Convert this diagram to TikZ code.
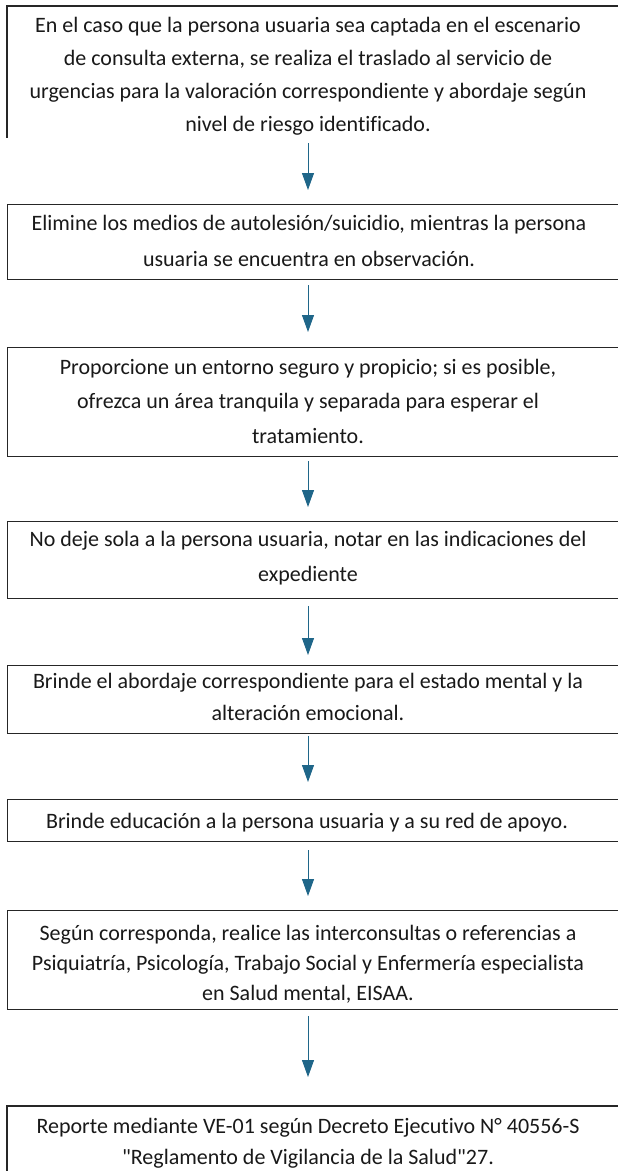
\documentclass[tikz,border=0pt]{standalone}
\usepackage{fontspec}
\setmainfont{Carlito}[Ligatures={TeXOff,CommonOff}]
\usetikzlibrary{arrows.meta}
\definecolor{arrowblue}{HTML}{1F6689}
\definecolor{boxgray}{HTML}{262626}
\begin{document}
\begin{tikzpicture}[x=1pt,y=-1pt,
  boxline/.style={draw=boxgray, line width=1.2pt},
  boxshape/.style={rectangle, inner sep=0pt, anchor=north west, minimum width=640pt},
  txt/.style={align=center, inner sep=0pt, text=black!90},
  arr/.style={draw=arrowblue, line width=1pt, -{Triangle[length=17pt,width=12pt]}}]
\useasboundingbox (0,0) rectangle (618,1171);
\clip (0,0) rectangle (618,1171);
\fill[white] (0,0) rectangle (618,1171);
\coordinate (ax) at (308,0);
% boxes
\node[boxshape, minimum height=132pt] (b1) at (7,6) {};
\draw[boxline] (b1.north east) -- (b1.north west) -- (b1.south west);
\node[boxshape, boxline, minimum height=75pt] (b2) at (7,204) {};
\node[boxshape, boxline, minimum height=109pt] (b3) at (7,347) {};
\node[boxshape, boxline, minimum height=77pt] (b4) at (7,521) {};
\node[boxshape, boxline, minimum height=68pt] (b5) at (7,665) {};
\node[boxshape, boxline, minimum height=42pt] (b6) at (7,799) {};
\node[boxshape, boxline, minimum height=99pt] (b7) at (7,910) {};
\node[boxshape, minimum height=80pt] (b8) at (7,1106) {};
\draw[boxline] (b8.north east) -- (b8.north west) -- (b8.south west);
% texts
\node[txt, font=\fontsize{22}{33}\selectfont] (t1) at (308,76.5)
  {En el caso que la persona usuaria sea captada en el escenario\\
   de consulta externa, se realiza el traslado al servicio de\\
   urgencias para la valoración correspondiente y abordaje según\\
   nivel de riesgo identificado.};
\node[txt, font=\fontsize{22}{36}\selectfont] (t2) at (309,241)
  {Elimine los medios de autolesión/suicidio, mientras la persona\\
   usuaria se encuentra en observación.};
\node[txt, font=\fontsize{22}{34.5}\selectfont] (t3) at (308,401)
  {Proporcione un entorno seguro y propicio; si es posible,\\
   ofrezca un área tranquila y separada para esperar el\\
   tratamiento.};
\node[txt, font=\fontsize{22}{35}\selectfont] (t4) at (308,558.5)
  {No deje sola a la persona usuaria, notar en las indicaciones del\\
   expediente};
\node[txt, font=\fontsize{22}{32}\selectfont] (t5) at (308,697)
  {Brinde el abordaje correspondiente para el estado mental y la\\
   alteración emocional.};
\node[txt, font=\fontsize{22}{33}\selectfont] (t6) at (307,823)
  {Brinde educación a la persona usuaria y a su red de apoyo.};
\node[txt, font=\fontsize{22}{30}\selectfont] (t7) at (308,964)
  {Según corresponda, realice las interconsultas o referencias a\\
   Psiquiatría, Psicología, Trabajo Social y Enfermería especialista\\
   en Salud mental, EISAA.};
\node[txt, font=\fontsize{22}{31}\selectfont] (t8) at (308,1143)
  {Reporte mediante VE-01 según Decreto Ejecutivo N° 40556-S\\
   "Reglamento de Vigilancia de la Salud"27.};
% arrows
\draw[arr, shorten <=5pt, shorten >=14pt] (b1.south -| ax) -- (b2.north -| ax);
\draw[arr, shorten <=5pt, shorten >=15pt] (b2.south -| ax) -- (b3.north -| ax);
\draw[arr, shorten <=4pt, shorten >=14pt] (b3.south -| ax) -- (b4.north -| ax);
\draw[arr, shorten <=7pt, shorten >=10pt] (b4.south -| ax) -- (b5.north -| ax);
\draw[arr, shorten <=2pt, shorten >=17pt] (b5.south -| ax) -- (b6.north -| ax);
\draw[arr, shorten <=8pt, shorten >=14pt] (b6.south -| ax) -- (b7.north -| ax);
\draw[arr, shorten <=6pt, shorten >=29pt] (b7.south -| ax) -- (b8.north -| ax);
\end{tikzpicture}
\end{document}
